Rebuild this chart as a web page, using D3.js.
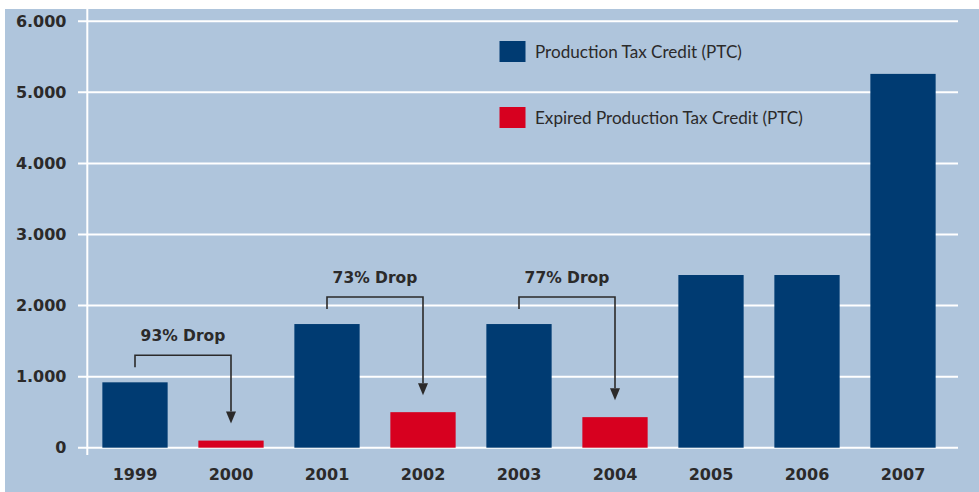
<!DOCTYPE html>
<html><head><meta charset="utf-8">
<script src="https://cdn.jsdelivr.net/npm/d3@7/dist/d3.min.js"></script>
<style>
html,body{margin:0;padding:0;background:#fff;}
svg{display:block;}
</style></head>
<body>
<svg id="chart" width="979" height="492"></svg>
<script>
const years = ["1999","2000","2001","2002","2003","2004","2005","2006","2007"];
const values = [920, 100, 1740, 500, 1740, 430, 2430, 2430, 5260];
const expired = [false, true, false, true, false, true, false, false, false];
const yTicks = [0, 1000, 2000, 3000, 4000, 5000, 6000];
const tickLabels = ["0", "1.000", "2.000", "3.000", "4.000", "5.000", "6.000"];
const legendLabels = ["Production Tax Credit (PTC)", "Expired Production Tax Credit (PTC)"];
const dropFrom = ["1999", "2001", "2003"];
const dropTo = ["2000", "2002", "2004"];
const dropLabels = ["93% Drop", "73% Drop", "77% Drop"];

const BLUE = "#003b72", RED = "#d7001f", BG = "#afc5dc", TEXT = "#2b2a2a", ARROW = "#2b2a2a";

const svg = d3.select("#chart");
svg.append("rect").attr("x", 5).attr("y", 9).attr("width", 974).attr("height", 483).attr("fill", BG);

const x = d3.scaleBand().domain(years).range([87, 951]).paddingInner(0.32).paddingOuter(0.16);
const y = d3.scaleLinear().domain([0, 6000]).range([447.7, 21.3]);

// grid
svg.append("g").selectAll("line").data(yTicks).join("line")
  .attr("x1", 78).attr("x2", 958)
  .attr("y1", d => y(d)).attr("y2", d => y(d))
  .attr("stroke", "#fff").attr("stroke-width", 2);
// vertical axis line
svg.append("line").attr("x1", 87.3).attr("x2", 87.3).attr("y1", 9).attr("y2", 455)
  .attr("stroke", "#fff").attr("stroke-width", 2);

// y labels
svg.append("g").selectAll("text").data(yTicks).join("text")
  .attr("x", 66.5).attr("y", d => y(d)).attr("dy", "0.36em")
  .attr("text-anchor", "end")
  .attr("font-family", "DejaVu Sans").attr("font-weight", "bold").attr("font-size", 16)
  .attr("fill", TEXT)
  .text((d, i) => tickLabels[i]);

// bars
svg.append("g").selectAll("rect").data(years).join("rect")
  .attr("x", d => x(d)).attr("width", x.bandwidth())
  .attr("y", (d, i) => y(values[i])).attr("height", (d, i) => y(0) - y(values[i]))
  .attr("fill", (d, i) => expired[i] ? RED : BLUE);

// x labels
const xAxis = d3.axisBottom(x).tickSize(0).tickPadding(0);
const gx = svg.append("g").attr("transform", `translate(0,${474})`).call(xAxis);
gx.select(".domain").remove();
gx.selectAll("text").attr("dy", "0.36em")
  .attr("font-family", "DejaVu Sans").attr("font-weight", "bold").attr("font-size", 16)
  .attr("fill", TEXT);

// legend
const lg = svg.append("g");
legendLabels.forEach((lab, i) => {
  const ly = 51.5 + i * 66;
  lg.append("rect").attr("x", 499.5).attr("y", ly - 10.5).attr("width", 26).attr("height", 21)
    .attr("fill", i === 0 ? BLUE : RED);
  lg.append("text").attr("x", 535).attr("y", ly).attr("dy", "0.36em")
    .attr("font-family", "Lato").attr("font-size", 17.1).attr("fill", TEXT).text(lab);
});

// drop annotations
const valOf = yr => values[years.indexOf(yr)];
dropLabels.forEach((lab, i) => {
  const x1 = x(dropFrom[i]) + x.bandwidth() / 2;
  const x2 = x(dropTo[i]) + x.bandwidth() / 2;
  const yFrom = y(valOf(dropFrom[i]));
  const yTo = y(valOf(dropTo[i]));
  const yTop = yFrom - 27;
  const g = svg.append("g");
  g.append("path")
    .attr("d", `M${x1},${yFrom - 15} V${yTop} H${x2} V${yTo - 29}`)
    .attr("fill", "none").attr("stroke", ARROW).attr("stroke-width", 1.6);
  g.append("path")
    .attr("d", `M${x2 - 5},${yTo - 29} L${x2 + 5},${yTo - 29} L${x2},${yTo - 17} Z`)
    .attr("fill", ARROW);
  g.append("text").attr("x", (x1 + x2) / 2).attr("y", yTop - 20).attr("dy", "0.36em")
    .attr("text-anchor", "middle")
    .attr("font-family", "DejaVu Sans").attr("font-weight", "bold").attr("font-size", 15.5)
    .attr("fill", TEXT).text(lab);
});
</script>
</body></html>
